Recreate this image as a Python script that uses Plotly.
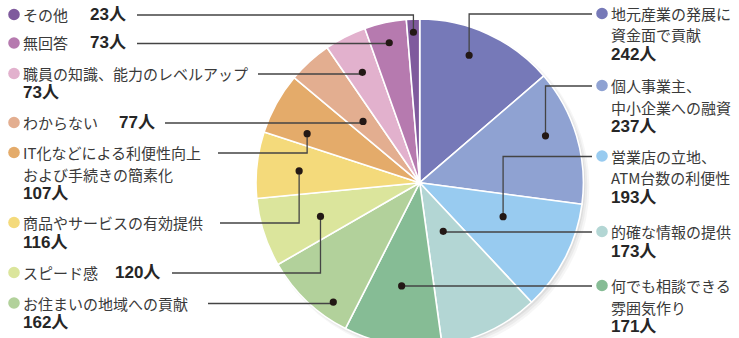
import math
import plotly.graph_objects as go

# ---------------- data ----------------
categories = [
    "地元産業の発展に\n資金面で貢献",
    "個人事業主、\n中小企業への融資",
    "営業店の立地、\nATM台数の利便性",
    "的確な情報の提供",
    "何でも相談できる\n雰囲気作り",
    "お住まいの地域への貢献",
    "スピード感",
    "商品やサービスの有効提供",
    "IT化などによる利便性向上\nおよび手続きの簡素化",
    "わからない",
    "職員の知識、能力のレベルアップ",
    "無回答",
    "その他",
]
values = [242, 237, 193, 173, 171, 162, 120, 116, 107, 77, 73, 73, 23]
unit = "人"
colors = [
    "#7679b8", "#8fa2d2", "#98cbf0", "#b3d6d4", "#86bc95", "#b2d19b", "#dbe59c",
    "#f4da7b", "#e4ab6a", "#e3ae90", "#e2b1cd", "#b67aaf", "#7f5a9d",
]

# ---------------- layout (pixels) ----------------
W, H = 739, 358
CX, CY, R = 419.7, 182.7, 163.7

# where the leader dot sits inside each slice (fraction of angular span, fraction of radius)
dot_pos = [0.43, 0.42, 0.37, 0.49, 0.51, 0.27, 0.46, 0.47, 0.25, 0.47, 0.47, 0.49, 0.49]
dot_rad = [0.835, 0.82, 0.55, 0.33, 0.64, 0.90, 0.64, 0.74, 0.75, 0.51, 0.76, 0.875, 0.92]

side = ["R", "R", "R", "R", "R", "L", "L", "L", "L", "L", "L", "L", "L"]
label_y = [13.5, 85.5, 156, 231.5, 285.5, 303, 272.5, 222.5, 152.5, 122.5, 73.5, 43, 14.5]
line_end_x = [592, 592, 592, 592, 592, 208, 172, 220, 218, 165, 258, 137, 137]
inline_num_x = [None, None, None, None, None, None, 113, None, None, 116.5, None, 88, 88]

LEFT_MARK_X, LEFT_TEXT_X = 14, 21
RIGHT_MARK_X, RIGHT_TEXT_X = 602, 609
LINE_GAP, NUM_GAP = 21.5, 19.5

TEXT_FONT = dict(family="Noto Sans CJK JP", size=15, color="#3a3a3a")
NUM_FONT = dict(family="Liberation Sans, Noto Sans CJK JP", size=17, color="#262626")


def px(x):
    return x / W


def py(y):
    return 1 - y / H


fig = go.Figure()

# soft drop shadow under the pie
for off, grow, alpha in [(4, 2, 0.035), (3, 1, 0.045), (2, 0, 0.06)]:
    fig.add_trace(go.Pie(
        values=[1], labels=["shadow"], sort=False,
        marker=dict(colors=[f"rgba(0,0,0,{alpha})"], line=dict(width=0)),
        textinfo="none", hoverinfo="skip", showlegend=False,
        domain=dict(x=[px(CX + off - R - grow), px(CX + off + R + grow)],
                    y=[py(CY + off + R + grow), py(CY + off - R - grow)]),
    ))

fig.add_trace(go.Pie(
    values=values,
    labels=[c.replace("\n", "") for c in categories],
    sort=False, direction="clockwise", rotation=0,
    marker=dict(colors=colors, line=dict(color="white", width=1.6)),
    textinfo="none", showlegend=False,
    hovertemplate="%{label}: %{value}人<extra></extra>",
    domain=dict(x=[px(CX - R), px(CX + R)], y=[py(CY + R), py(CY - R)]),
))

shapes = []
annotations = []
total = sum(values)
cum = 0
for i, (cat, v) in enumerate(zip(categories, values)):
    a0 = cum / total * 360
    a1 = (cum + v) / total * 360
    cum += v
    ang = math.radians(a0 + (a1 - a0) * dot_pos[i])
    dx = CX + R * dot_rad[i] * math.sin(ang)
    dy = CY - R * dot_rad[i] * math.cos(ang)
    ly = label_y[i] + 0.5
    ex = line_end_x[i]

    # leader line
    path = f"M {px(dx)},{py(dy)} L {px(dx)},{py(ly)} L {px(ex)},{py(ly)}"
    shapes.append(dict(type="path", path=path, xref="paper", yref="paper",
                       line=dict(color="#444444", width=1.3)))
    # dot at slice end
    r = 3.6
    shapes.append(dict(type="circle", xref="paper", yref="paper",
                       x0=px(dx - r), x1=px(dx + r), y0=py(dy + r), y1=py(dy - r),
                       fillcolor="#231815", line=dict(width=0)))

    # label marker
    mx = LEFT_MARK_X if side[i] == "L" else RIGHT_MARK_X
    tx = LEFT_TEXT_X if side[i] == "L" else RIGHT_TEXT_X
    mr = 5.8
    my = label_y[i]
    shapes.append(dict(type="circle", xref="paper", yref="paper",
                       x0=px(mx - mr), x1=px(mx + mr), y0=py(my + mr), y1=py(my - mr),
                       fillcolor=colors[i], line=dict(width=0)))

    lines = cat.split("\n")
    for k, t in enumerate(lines):
        annotations.append(dict(text=t, x=px(tx), y=py(label_y[i] + k * LINE_GAP),
                                xref="paper", yref="paper", xanchor="left",
                                yanchor="middle", showarrow=False, font=TEXT_FONT))
    num_text = f"<b>{v}{unit}</b>"
    if inline_num_x[i] is not None:
        nx, ny = inline_num_x[i], label_y[i]
    else:
        nx, ny = tx, label_y[i] + (len(lines) - 1) * LINE_GAP + NUM_GAP
    annotations.append(dict(text=num_text, x=px(nx), y=py(ny),
                            xref="paper", yref="paper", xanchor="left",
                            yanchor="middle", showarrow=False, font=NUM_FONT))

fig.update_layout(
    width=W, height=H,
    margin=dict(l=0, r=0, t=0, b=0),
    paper_bgcolor="white", plot_bgcolor="white",
    shapes=shapes, annotations=annotations,
    showlegend=False,
)

fig.write_html(
    "out.html",
    config=dict(displayModeBar=False),
    post_script="document.body.style.margin='0';document.body.style.overflow='hidden';"
                "document.documentElement.style.overflow='hidden';",
)
